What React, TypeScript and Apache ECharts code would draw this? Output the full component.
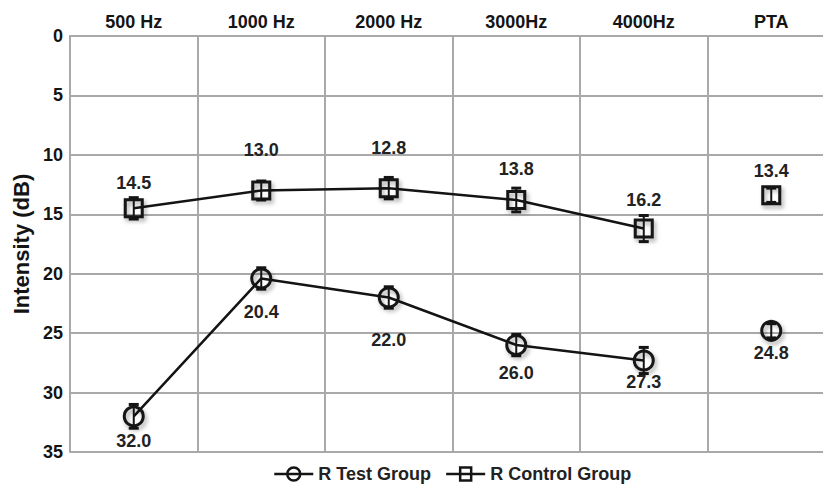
import React, { useEffect, useRef } from "react";
import * as echarts from "echarts";

const categories = ["500 Hz", "1000 Hz", "2000 Hz", "3000Hz", "4000Hz", "PTA"];
const testValues = [32.0, 20.4, 22.0, 26.0, 27.3, 24.8];
const testErrors = [1.0, 0.9, 0.9, 0.9, 1.1, 0.6];
const controlValues = [14.5, 13.0, 12.8, 13.8, 16.2, 13.4];
const controlErrors = [0.9, 0.8, 0.9, 1.0, 1.1, 0.6];
const yTicks = { min: 0, max: 35, interval: 5 };

// layout: vertical offset (px) of each value label from its marker
const testLabelDy = [25, 34, 43, 28, 22, 22];
const controlLabelDy = [-25, -41, -40, -31, -29, -24];

const FONT = '"Liberation Sans", Arial, sans-serif';
const INK = "#141414";
const GRID = "#a9a9a9";

function makeRender(kind: "circle" | "square", dys: number[], decimals: number) {
  return (params: any, api: any) => {
    const xi = api.value(0);
    const v = api.value(1);
    const e = api.value(2);
    const [cx, cy] = api.coord([xi, v]);
    const top = api.coord([xi, v - e])[1];
    const bot = api.coord([xi, v + e])[1];
    const shadow = {
      shadowBlur: 4,
      shadowColor: "rgba(0,0,0,0.35)",
      shadowOffsetX: 2,
      shadowOffsetY: 3,
    };
    const marker =
      kind === "circle"
        ? {
            type: "circle",
            shape: { cx, cy, r: 9.5 },
            style: { fill: "none", stroke: INK, lineWidth: 3, ...shadow },
          }
        : {
            type: "rect",
            shape: { x: cx - 8.5, y: cy - 8.5, width: 17, height: 17 },
            style: { fill: "none", stroke: INK, lineWidth: 3, ...shadow },
          };
    return {
      type: "group",
      children: [
        marker,
        {
          type: "line",
          shape: { x1: cx, y1: top, x2: cx, y2: bot },
          style: { stroke: INK, lineWidth: 2 },
        },
        {
          type: "line",
          shape: { x1: cx - 5, y1: top, x2: cx + 5, y2: top },
          style: { stroke: INK, lineWidth: 3 },
        },
        {
          type: "line",
          shape: { x1: cx - 5, y1: bot, x2: cx + 5, y2: bot },
          style: { stroke: INK, lineWidth: 3 },
        },
        {
          type: "text",
          x: cx,
          y: cy + dys[params.dataIndex],
          style: {
            text: Number(v).toFixed(decimals),
            font: `bold 18px ${FONT}`,
            fill: "#222",
            align: "center",
            verticalAlign: "middle",
          },
        },
      ],
    };
  };
}

export default function App() {
  const ref = useRef<HTMLDivElement>(null);
  useEffect(() => {
    if (!ref.current) return;
    const chart = echarts.init(ref.current, null, { renderer: "svg" });
    const lastIdx = categories.length - 1;
    const testLine = testValues.map((v, i) => (i === lastIdx ? null : v));
    const controlLine = controlValues.map((v, i) => (i === lastIdx ? null : v));
    const testData = testValues.map((v, i) => [i, v, testErrors[i]]);
    const controlData = controlValues.map((v, i) => [i, v, controlErrors[i]]);

    chart.setOption({
      animation: false,
      backgroundColor: "#ffffff",
      textStyle: { fontFamily: FONT },
      grid: { left: 70, top: 36, right: 5, bottom: 33, containLabel: false },
      legend: {
        left: 273,
        top: 465,
        padding: 0,
        itemWidth: 39,
        itemHeight: 13,
        itemGap: 14,
        textStyle: {
          fontSize: 18,
          lineHeight: 18,
          fontWeight: "bold",
          color: "#222",
          fontFamily: FONT,
          padding: [0, 0, 0, 0],
        },
        selectedMode: false,
        data: [
          {
            name: "R Test Group",
            icon: "path://M0,7 L39,7 M26,7 A6.5,6.5 0 1,1 13,7 A6.5,6.5 0 1,1 26,7 Z",
            itemStyle: { color: "transparent", borderColor: INK, borderWidth: 2.5 },
          },
          {
            name: "R Control Group",
            icon: "path://M0,7 L39,7 M14,0.5 L25,0.5 L25,13.5 L14,13.5 Z",
            itemStyle: { color: "transparent", borderColor: INK, borderWidth: 2.5 },
          },
        ],
      },
      xAxis: {
        type: "category",
        position: "top",
        data: categories,
        boundaryGap: true,
        axisTick: { show: false },
        axisLine: { show: true, lineStyle: { color: GRID, width: 2 } },
        axisLabel: { color: INK, fontWeight: "bold", fontSize: 18, margin: 5, fontFamily: FONT },
        splitLine: { show: true, lineStyle: { color: GRID, width: 2 } },
      },
      yAxis: {
        type: "value",
        inverse: true,
        min: yTicks.min,
        max: yTicks.max,
        interval: yTicks.interval,
        name: "Intensity (dB)",
        nameLocation: "middle",
        nameRotate: 90,
        nameGap: 37,
        nameTextStyle: { fontSize: 22, fontWeight: "bold", color: INK, fontFamily: FONT },
        axisTick: { show: false },
        axisLine: { show: true, lineStyle: { color: GRID, width: 2 } },
        axisLabel: { color: INK, fontWeight: "bold", fontSize: 18, margin: 7, fontFamily: FONT },
        splitLine: { show: true, lineStyle: { color: GRID, width: 2 } },
      },
      series: [
        {
          name: "R Test Group",
          type: "line",
          data: testLine,
          showSymbol: false,
          symbol: "none",
          connectNulls: false,
          lineStyle: { color: INK, width: 2.5 },
          itemStyle: { color: INK },
          z: 2,
        },
        {
          name: "R Control Group",
          type: "line",
          data: controlLine,
          showSymbol: false,
          symbol: "none",
          connectNulls: false,
          lineStyle: { color: INK, width: 2.5 },
          itemStyle: { color: INK },
          z: 2,
        },
        {
          name: "R Test Group",
          type: "custom",
          data: testData,
          renderItem: makeRender("circle", testLabelDy, 1),
          itemStyle: { color: INK },
          z: 3,
        },
        {
          name: "R Control Group",
          type: "custom",
          data: controlData,
          renderItem: makeRender("square", controlLabelDy, 1),
          itemStyle: { color: INK },
          z: 3,
        },
      ],
    });
    return () => chart.dispose();
  }, []);
  return (
    <div
      style={{ position: "fixed", left: 0, top: 0, width: 823, height: 485, overflow: "hidden", background: "#fff" }}
    >
      <div ref={ref} style={{ width: 840, height: 485 }} />
    </div>
  );
}
